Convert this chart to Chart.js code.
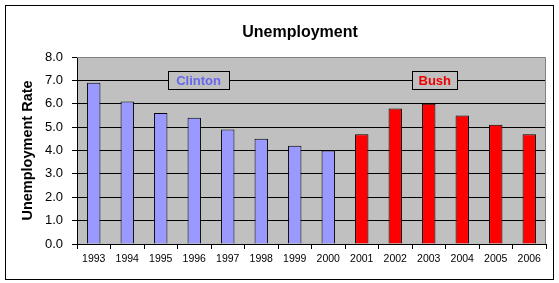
<!DOCTYPE html>
<html>
<head>
<meta charset="utf-8">
<script src="https://cdn.jsdelivr.net/npm/chart.js@4"></script>
<style>
  html, body { margin: 0; padding: 0; background: #fff; }
  #wrap { width: 559px; height: 283px; position: relative; }
</style>
</head>
<body>
<div id="wrap"><canvas id="c" width="559" height="283"></canvas></div>
<script>
// ---- data ----
const years = ['1993','1994','1995','1996','1997','1998','1999','2000','2001','2002','2003','2004','2005','2006'];
const rates = [6.9, 6.1, 5.6, 5.4, 4.9, 4.5, 4.2, 4.0, 4.7, 5.8, 6.0, 5.5, 5.1, 4.7];
const party = ['Clinton','Clinton','Clinton','Clinton','Clinton','Clinton','Clinton','Clinton','Bush','Bush','Bush','Bush','Bush','Bush'];
const yTicks = [0, 1, 2, 3, 4, 5, 6, 7, 8];
const chartTitle = 'Unemployment';
const yTitle = 'Unemployment Rate';

// ---- styles ----
const partyColor = { Clinton: '#9999FF', Bush: '#FF0000' };
const labelColor = { Clinton: '#6666EE', Bush: '#EE0000' };
const FONT = "'Liberation Sans', Arial, sans-serif";

const decorPlugin = {
  id: 'decor',
  beforeDraw(chart) {
    const { ctx, chartArea: a } = chart;
    ctx.save();
    ctx.fillStyle = '#fff';
    ctx.fillRect(0, 0, chart.width, chart.height);
    ctx.fillStyle = '#C0C0C0';
    ctx.fillRect(a.left, a.top, a.right - a.left, a.bottom - a.top);
    ctx.restore();
  },
  afterDatasetsDraw(chart) {
    const { ctx, chartArea: a, scales } = chart;
    ctx.save();
    ctx.strokeStyle = '#808080';
    ctx.lineWidth = 1;
    ctx.beginPath();
    ctx.moveTo(a.left, a.top + 0.5);
    ctx.lineTo(a.right - 0.5, a.top + 0.5);
    ctx.lineTo(a.right - 0.5, a.bottom);
    ctx.stroke();
    const notes = [
      { text: 'Clinton', idx: 3.13, w: 61, color: labelColor.Clinton },
      { text: 'Bush', idx: 10.18, w: 45, color: labelColor.Bush }
    ];
    const yc = scales.y.getPixelForValue(7);
    notes.forEach(n => {
      const xc = scales.x.getPixelForValue(n.idx);
      const h = 18;
      const x0 = Math.round(xc - n.w / 2) + 0.5, y0 = Math.round(yc - h / 2) + 0.5;
      ctx.fillStyle = '#C0C0C0';
      ctx.fillRect(x0, y0, n.w, h);
      ctx.strokeStyle = '#000';
      ctx.strokeRect(x0, y0, n.w, h);
      ctx.fillStyle = n.color;
      ctx.font = "bold 13px " + FONT;
      ctx.textAlign = 'center';
      ctx.textBaseline = 'middle';
      ctx.fillText(n.text, xc, yc + 1);
    });
    ctx.restore();
  },
  afterDraw(chart) {
    const { ctx } = chart;
    ctx.save();
    ctx.strokeStyle = '#000';
    ctx.lineWidth = 1;
    ctx.strokeRect(5.5, 5.5, 548, 274);
    ctx.fillStyle = '#000';
    ctx.font = "bold 16px " + FONT;
    ctx.textAlign = 'center';
    ctx.textBaseline = 'middle';
    ctx.fillText(chartTitle, 300, 33);
    ctx.restore();
  }
};

new Chart(document.getElementById('c'), {
  type: 'bar',
  data: {
    labels: years,
    datasets: [{
      data: rates,
      backgroundColor: party.map(p => partyColor[p]),
      borderColor: '#000',
      borderWidth: 1,
      borderSkipped: 'bottom',
      barPercentage: 0.4,
      categoryPercentage: 1.0
    }]
  },
  options: {
    responsive: false,
    animation: false,
    devicePixelRatio: 1,
    layout: { padding: { top: 57, right: 13, bottom: 0, left: 0 } },
    plugins: {
      legend: { display: false },
      tooltip: { enabled: false },
      title: { display: false }
    },
    scales: {
      x: {
        offset: true,
        grid: {
          offset: true,
          drawOnChartArea: false,
          drawTicks: true,
          tickLength: 5,
          color: '#000',
          tickColor: '#000'
        },
        border: { color: '#000', width: 1 },
        ticks: {
          color: '#000',
          font: { family: FONT, size: 10.5 },
          padding: 4,
          maxRotation: 0,
          autoSkip: false
        },
        afterFit(scale) { scale.height = 39; }
      },
      y: {
        min: 0,
        max: 8,
        afterBuildTicks(scale) { scale.ticks = yTicks.map(v => ({ value: v })); },
        grid: {
          color: ctx => (ctx.tick && ctx.tick.value === 8) ? 'rgba(0,0,0,0)' : '#000',
          tickColor: '#000',
          tickLength: 5,
          lineWidth: 1
        },
        border: { color: '#000', width: 1 },
        ticks: {
          color: '#000',
          font: { family: FONT, size: 13 },
          padding: 9,
          callback: v => Number(v).toFixed(1)
        },
        title: {
          display: true,
          text: yTitle,
          color: '#000',
          font: { family: FONT, size: 14.5, weight: 'bold' },
          padding: { top: 19, bottom: 0 }
        },
        afterFit(scale) { scale.width = 77; }
      }
    }
  },
  plugins: [decorPlugin]
});
</script>
</body>
</html>
